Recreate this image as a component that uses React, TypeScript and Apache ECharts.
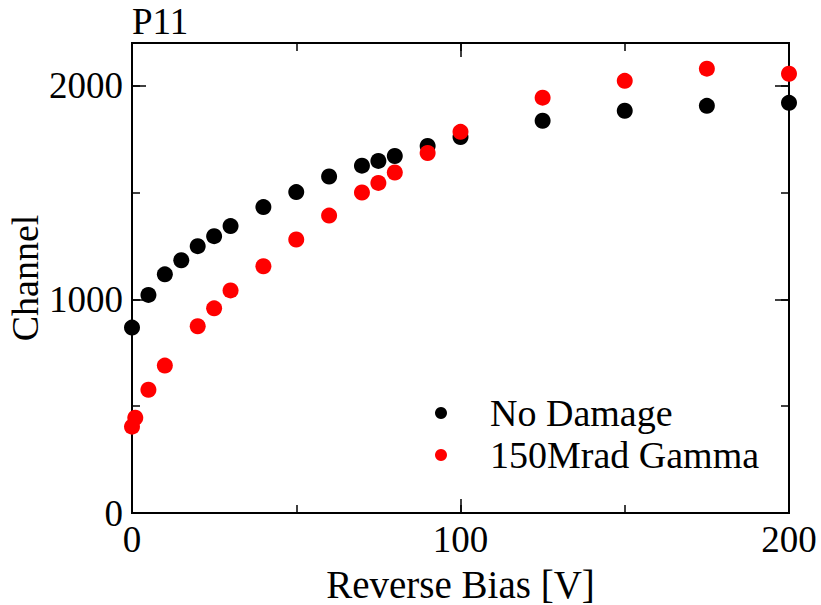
import React, { useEffect, useRef } from "react";
import * as echarts from "echarts";

// Reverse bias voltage [V] and measured channel for each sample
const biasNoDamage = [0, 5, 10, 15, 20, 25, 30, 40, 50, 60, 70, 75, 80, 90, 100, 125, 150, 175, 200];
const channelNoDamage = [868, 1021, 1117, 1183, 1249, 1296, 1343, 1432, 1502, 1575, 1626, 1648, 1671, 1718, 1760, 1836, 1883, 1906, 1920];

const biasGamma = [0, 1, 5, 10, 20, 25, 30, 40, 50, 60, 70, 75, 80, 90, 100, 125, 150, 175, 200];
const channelGamma = [404, 446, 577, 690, 874, 958, 1042, 1155, 1280, 1392, 1500, 1545, 1594, 1685, 1784, 1944, 2023, 2080, 2056];

const seriesNames = ["No Damage", "150Mrad Gamma"];
const plotTitle = "P11";
const xTitle = "Reverse Bias [V]";
const yTitle = "Channel";

const FONT = "'Liberation Serif', 'Times New Roman', serif";

function pairs(xs: number[], ys: number[]) {
  return xs.map((x, i) => [x, ys[i]]);
}

export default function App() {
  const ref = useRef<HTMLDivElement>(null);

  useEffect(() => {
    if (!ref.current) return;
    const chart = echarts.init(ref.current, undefined, { renderer: "svg" });

    const line = { show: true, onZero: false, lineStyle: { color: "#000", width: 2 } };
    const xBase = { type: "value", min: 0, max: 200, axisLine: line, splitLine: { show: false } };
    const yBase = { type: "value", min: 0, max: 2200, axisLine: line, splitLine: { show: false } };
    const majorTick = { show: true, inside: true, length: 14, lineStyle: { color: "#000", width: 1.5 } };
    const minorTick = { show: true, inside: true, length: 8, lineStyle: { color: "#000", width: 1.5 } };
    const noLabel = { show: false };

    chart.setOption({
      animation: false,
      backgroundColor: "#fff",
      textStyle: { fontFamily: FONT },
      grid: { left: 132, right: 32, top: 43, bottom: 92, outerBoundsMode: "none", containLabel: false },
      title: {
        text: plotTitle,
        left: 127,
        top: -2,
        textStyle: { fontFamily: FONT, fontSize: 37, fontWeight: "normal", color: "#000" },
      },
      legend: {
        orient: "vertical",
        left: 430,
        top: 389,
        icon: "circle",
        itemWidth: 88,
        itemHeight: 12,
        itemGap: 4,
        data: seriesNames,
        textStyle: { fontFamily: FONT, fontSize: 38, lineHeight: 38, color: "#000" },
      },
      xAxis: [
        {
          ...xBase,
          position: "bottom",
          interval: 100,
          axisTick: majorTick,
          axisLabel: { color: "#000", fontFamily: FONT, fontSize: 37, margin: 8 },
          name: xTitle,
          nameLocation: "middle",
          nameGap: 52,
          nameMoveOverlap: false,
          nameTextStyle: { color: "#000", fontFamily: FONT, fontSize: 39, lineHeight: 39 },
        },
        { ...xBase, position: "bottom", interval: 50, axisTick: minorTick, axisLabel: noLabel },
        { ...xBase, position: "top", interval: 100, axisTick: majorTick, axisLabel: noLabel },
        { ...xBase, position: "top", interval: 50, axisTick: minorTick, axisLabel: noLabel },
      ],
      yAxis: [
        {
          ...yBase,
          position: "left",
          interval: 1000,
          axisTick: majorTick,
          axisLabel: {
            color: "#000",
            fontFamily: FONT,
            fontSize: 37,
            margin: 9,
            formatter: (v: number) => (v % 1000 === 0 ? String(v) : ""),
          },
          name: yTitle,
          nameLocation: "middle",
          nameGap: 88,
          nameMoveOverlap: false,
          nameTextStyle: { color: "#000", fontFamily: FONT, fontSize: 38, lineHeight: 38 },
        },
        { ...yBase, position: "left", interval: 500, axisTick: minorTick, axisLabel: noLabel },
        { ...yBase, position: "right", interval: 1000, axisTick: majorTick, axisLabel: noLabel },
        { ...yBase, position: "right", interval: 500, axisTick: minorTick, axisLabel: noLabel },
      ],
      series: [
        {
          name: seriesNames[0],
          type: "scatter",
          xAxisIndex: 0,
          yAxisIndex: 0,
          symbol: "circle",
          symbolSize: 16,
          itemStyle: { color: "#000", opacity: 1 },
          data: pairs(biasNoDamage, channelNoDamage),
          z: 2,
        },
        {
          name: seriesNames[1],
          type: "scatter",
          xAxisIndex: 0,
          yAxisIndex: 0,
          symbol: "circle",
          symbolSize: 16,
          itemStyle: { color: "#ff0000", opacity: 1 },
          data: pairs(biasGamma, channelGamma),
          z: 3,
        },
      ],
    });

    return () => chart.dispose();
  }, []);

  return <div ref={ref} style={{ width: 821, height: 605, position: "absolute", left: 0, top: 0 }} />;
}
